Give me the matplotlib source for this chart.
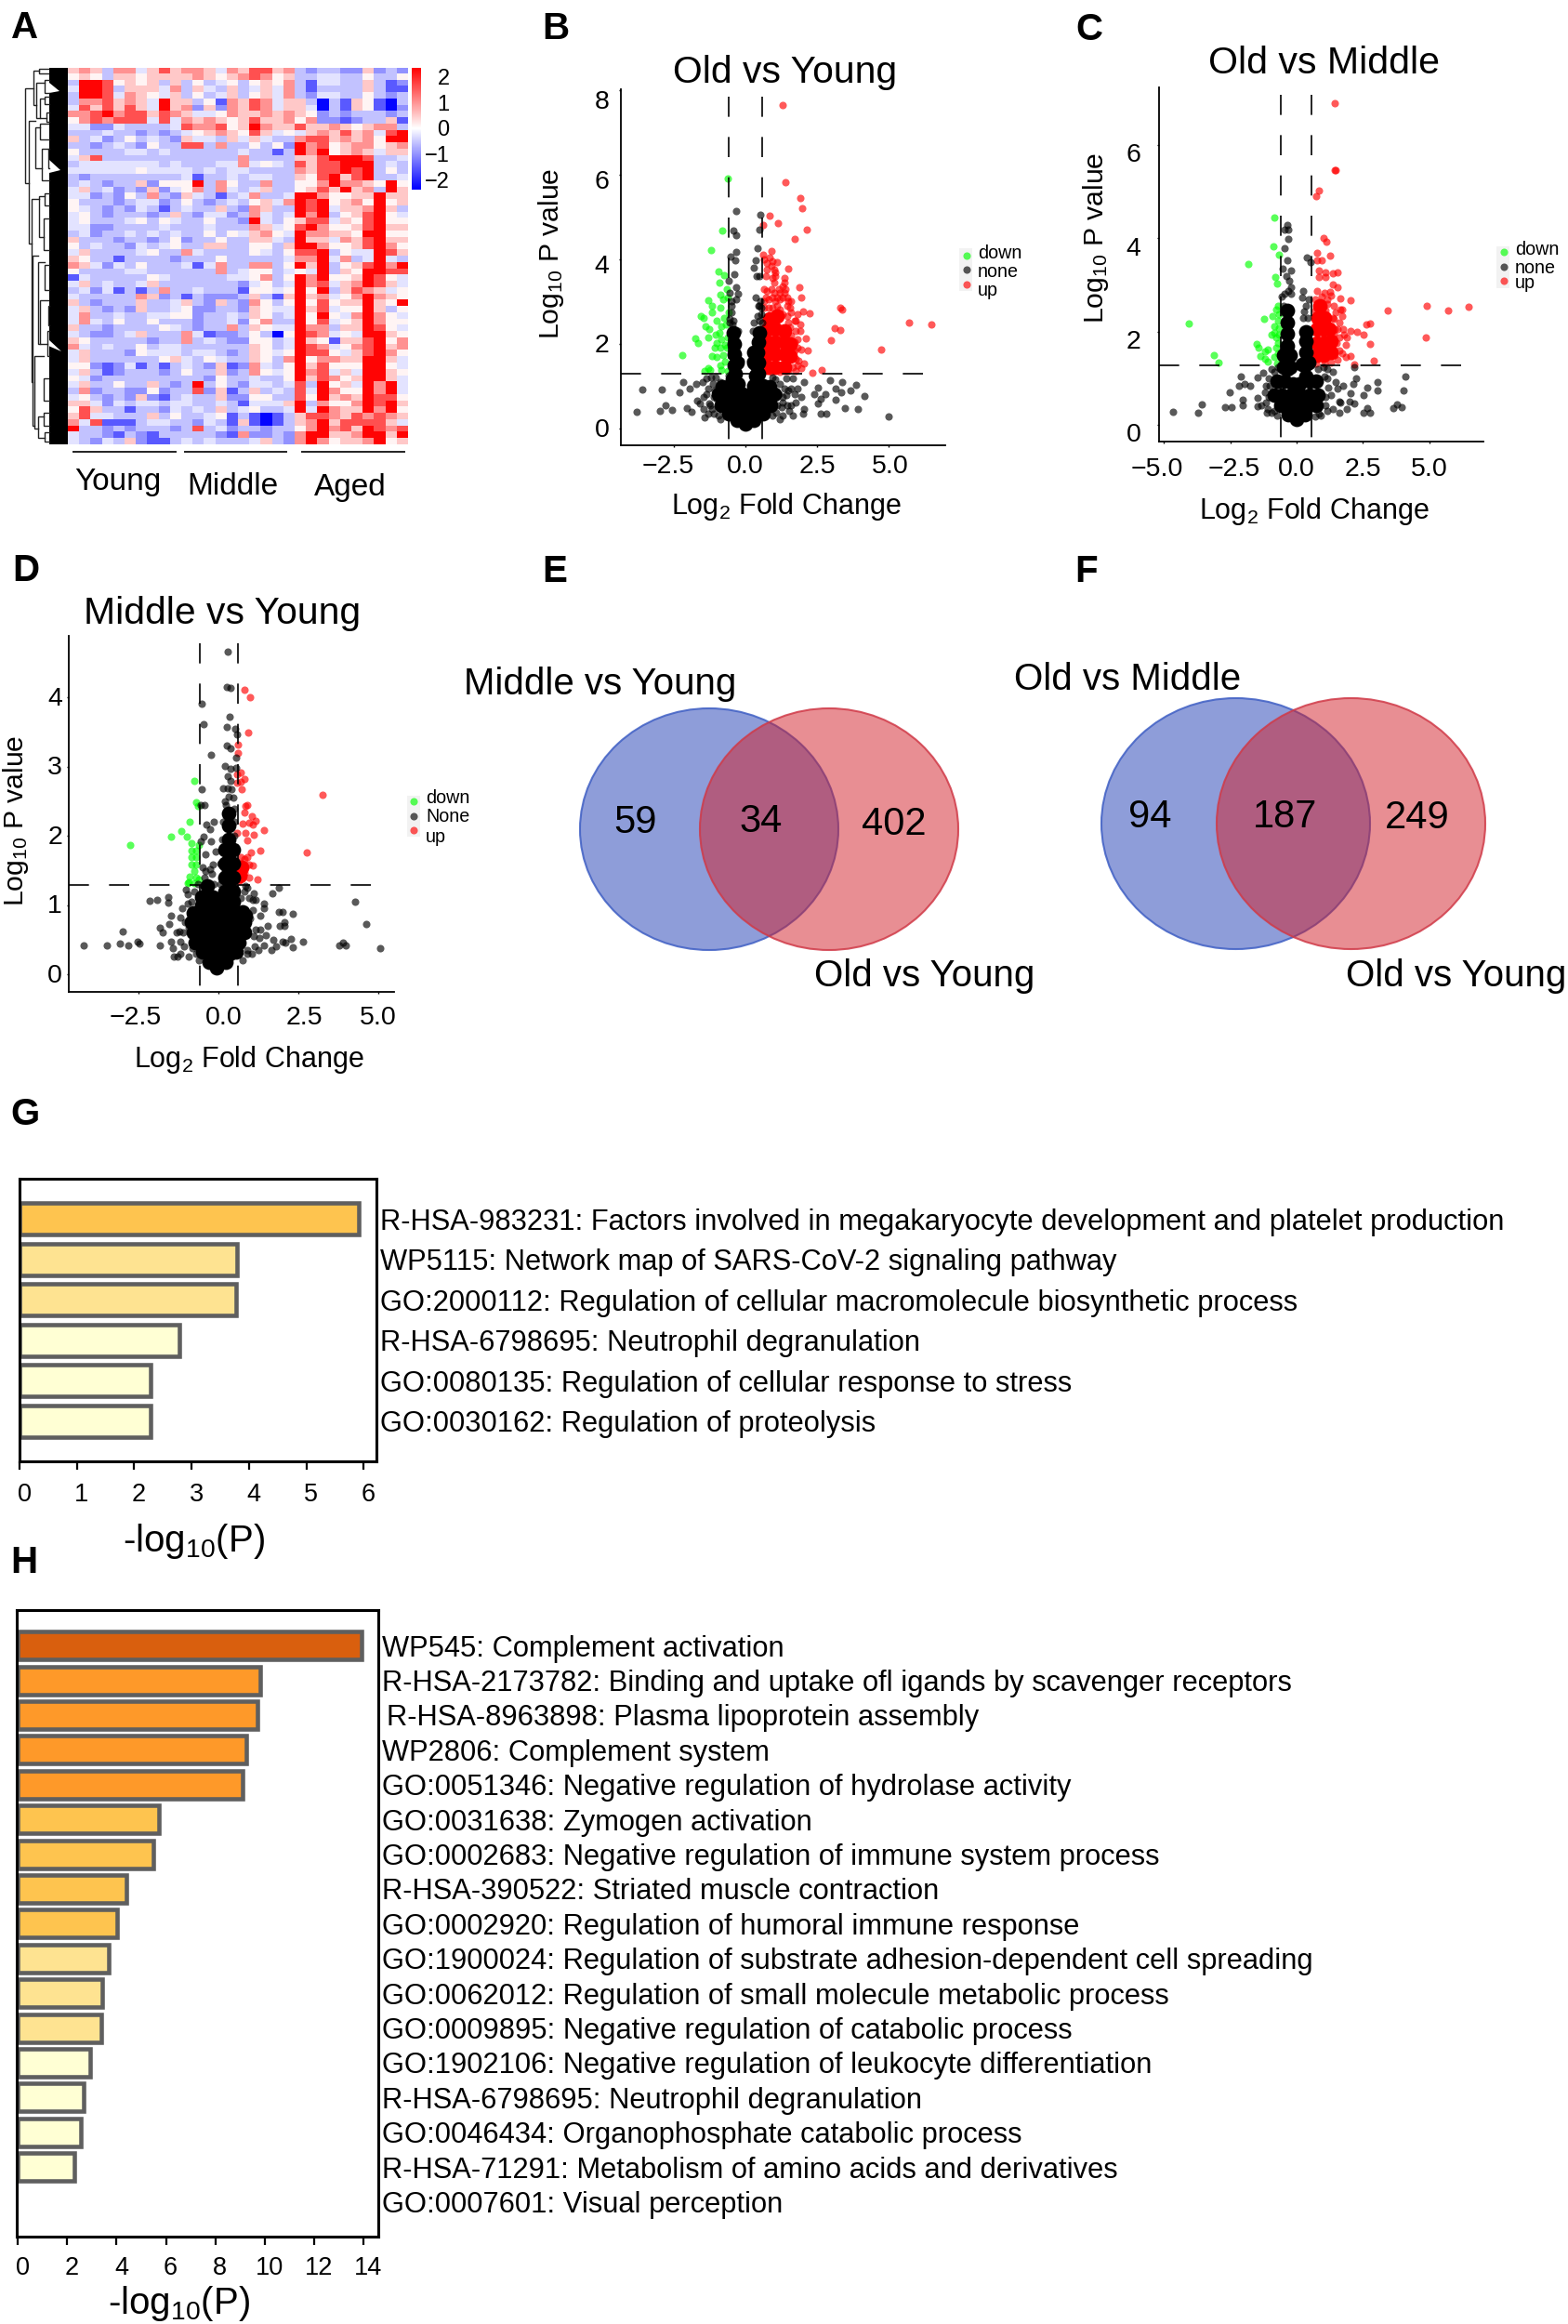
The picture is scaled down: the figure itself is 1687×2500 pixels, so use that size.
#!/usr/bin/env python3
"""Multi-panel figure: heatmap, volcano plots, Venn diagrams, enrichment bars."""

import numpy as np
import matplotlib
matplotlib.use("Agg")
import matplotlib.pyplot as plt
from matplotlib.colors import LinearSegmentedColormap
from matplotlib.patches import Ellipse, Rectangle
from matplotlib.transforms import ScaledTranslation

plt.rcParams["font.family"] = ["Liberation Sans", "DejaVu Sans"]
plt.rcParams["mathtext.fontset"] = "custom"
plt.rcParams["mathtext.rm"] = "Liberation Sans"
plt.rcParams["mathtext.default"] = "regular"

W, H = 1687, 2500

# ---- panel A: one digit per cell, 0 = deep blue ... 9 = deep red
HEAT_LEVELS = [-2.3, -1.5, -1.0, -0.55, -0.25, 0.1, 0.5, 1.0, 1.6, 2.3]
HEAT_ROWS = [
    "6763774686 7764768867 3233226232",
    "5653665666 6765678756 3344335335",
    "3998565636 3534535657 3144336312",
    "4998366647 3643634647 3133336311",
    "3998476546 3534635647 3244335323",
    "3778676496 6351768746 6303165103",
    "4868686496 7262768746 6403165102",
    "7789788687 6445766767 6523233323",
    "5787888484 7676568667 5722123361",
    "4422433334 8778569766 8667656773",
    "3334332323 4567658645 4676867489",
    "6342353432 6443646433 7886767599",
    "3323432533 8837335352 9785677567",
    "5333344343 3333343313 9795676466",
    "4683333333 3333373333 6689998334",
    "3444444434 3334474543 8688999343",
    "4444445444 4343443333 7688989353",
    "3233333333 4133434433 6589689334",
    "3432336255 5937533733 5579776595",
    "4634232624 5737434633 5686967396",
    "4423253732 6431347334 9975566966",
    "5333234423 5323435647 9895675956",
    "5432324313 4336327633 9894667963",
    "4532333236 3244237434 9793568954",
    "4533345354 3353329435 6884658955",
    "4422333343 3343337645 8975568966",
    "3423343434 3353546754 9776659955",
    "6333233235 2335336643 9664768966",
    "5343324345 3366335536 9975568975",
    "4633334533 7433335435 8893544986",
    "6533133332 3335333334 7794734943",
    "7642435333 4147337735 9693568979",
    "5333344333 3337345534 5493659988",
    "1433333543 3333445735 9795569854",
    "4634334633 3333324534 9784679864",
    "3424131373 3433315545 9593687645",
    "4333337623 1322236316 9674579765",
    "6323336334 6326327535 9585669659",
    "4632326334 5223326544 9684559635",
    "4733433445 5233436534 9595479754",
    "4743533533 3233425733 9584569755",
    "6332333354 3233736544 9773669854",
    "4322346333 7412235305 9874549965",
    "6533333233 7343225534 9651668957",
    "7434335344 3333336534 9874578967",
    "4633325444 3443236545 9885468975",
    "4633333356 4354336537 9577669964",
    "5521241313 4326127435 9685559954",
    "4631233323 5336237545 9784649965",
    "5423333333 3325334335 9687569964",
    "4633533632 3935324434 8395649794",
    "3723322523 3826136343 8497559794",
    "4532326213 4336225533 8596769885",
    "6642434434 4334314446 9375579896",
    "5863313324 3436345334 9497669795",
    "6844333635 3345131013 6887687876",
    "7481113443 3243161013 6796888864",
    "9332323332 3834233233 5797869878",
    "4332132133 3332172232 7996679969",
    "4324362113 4343334632 7975667956",
]
COLORBAR_TICKS = [2, 1, 0, -1, -2]
GROUP_NAMES = ["Young", "Middle", "Aged"]

# dendrogram brackets: depth of the bar, its two rows, depth of the two children
DENDRO = [
    (20, 3.3, 18.4, 47, 33), (47, 0.5, 6.0, 65, 58), (65, 0.2, 1.0, 95, 95),
    (58, 2.5, 8.0, 85, 70), (85, 2.0, 4.0, 100, 100), (70, 5.0, 8.0, 85, 90),
    (85, 4.6, 5.8, 100, 100), (90, 7.2, 8.6, 100, 100), (33, 8.5, 28.0, 55, 42),
    (55, 9.5, 16.0, 70, 75), (70, 9.0, 11.5, 95, 100), (75, 13.0, 18.0, 95, 100),
    (95, 13.0, 16.0, 100, 100), (42, 21.0, 50.0, 65, 45), (65, 20.5, 27.0, 85, 80),
    (85, 20.0, 22.0, 100, 100), (80, 24.0, 29.0, 100, 100), (45, 30.0, 57.0, 62, 50),
    (62, 31.0, 44.0, 85, 70), (85, 31.5, 35.5, 100, 100), (70, 37.0, 44.0, 95, 92),
    (95, 38.0, 41.0, 100, 100), (92, 42.0, 46.0, 100, 100), (50, 46.0, 57.5, 80, 62),
    (80, 49.5, 53.0, 95, 100), (62, 55.5, 59.0, 80, 85), (80, 55.0, 57.0, 100, 100),
    (85, 58.0, 59.6, 100, 100),
]

# ---- panel B: Old vs Young
B_DOWN = [(-.61, 5.90), (-.81, 4.68), (-1.20, 4.21), (-.95, 3.72), (-.73, 3.62), (-.91, 3.44),
          (-.66, 3.30), (-.89, 3.16), (-1.29, 3.04), (-.77, 3.06), (-1.18, 2.90), (-.89, 2.86),
          (-.63, 3.10), (-1.18, 2.74), (-1.55, 2.65), (-1.46, 2.62), (-1.0, 2.54), (-.75, 2.62),
          (-1.40, 2.42), (-1.28, 2.34), (-.83, 2.42), (-.91, 2.26), (-1.03, 2.22), (-1.31, 2.16),
          (-1.75, 2.12), (-1.64, 2.02), (-.83, 2.1), (-1.0, 2.02), (-.89, 1.90), (-1.06, 1.90),
          (-.72, 1.98), (-2.21, 1.74), (-1.18, 1.72), (-1.0, 1.68), (-.77, 1.74), (-.72, 1.58),
          (-.89, 1.49), (-1.29, 1.42), (-1.23, 1.38), (-1.41, 1.36), (-.83, 1.38), (-.63, 1.36),
          (-.66, 1.90), (-.63, 2.14), (-.68, 2.46), (-.6, 2.74)]
B_UP = [(1.30, 7.64), (1.38, 5.83), (1.90, 5.45), (1.97, 5.21), (.84, 5.02), (.61, 4.82), (1.12, 4.85),
        (2.13, 4.70), (1.70, 4.49), (.90, 4.19), (.61, 4.10), (1.10, 3.94), (1.49, 3.77), (1.88, 3.33),
        (1.93, 3.10), (3.31, 2.85), (3.36, 2.81), (2.23, 2.72), (2.02, 2.77), (5.69, 2.50), (6.46, 2.46),
        (3.10, 2.37), (3.30, 2.32), (2.98, 2.09), (2.09, 2.12), (4.71, 1.87), (2.17, 1.85), (1.95, 1.86),
        (2.05, 1.54), (1.94, 1.42), (2.32, 1.31), (2.66, 1.38), (1.0, 3.2), (1.3, 3.1), (1.4, 3.3),
        (1.35, 3.45), (1.2, 3.2), (.9, 3.3), (.65, 3.3), (.7, 3.1), (1.05, 3.0), (1.45, 2.9), (1.6, 2.75),
        (1.8, 2.7), (1.75, 2.55), (1.9, 2.45), (1.9, 2.3), (1.7, 2.55), (1.55, 2.4), (1.8, 2.1), (1.7, 1.85),
        (1.85, 1.6), (1.65, 1.45), (1.75, 1.35), (1.5, 1.35), (1.2, 1.33), (.9, 1.33), (1.6, 2.2), (.75, 3.75),
        (.95, 3.95), (1.0, 3.75), (1.05, 3.6), (.95, 3.55), (.9, 3.85), (.85, 4.05), (.7, 3.6), (.75, 3.9),
        (1.0, 3.45), (1.05, 3.7), (1.35, 3.55), (.65, 4.0), (.65, 2.85), (.8, 2.85), (.95, 2.85), (1.1, 2.9), (1.2, 2.8),
        (1.3, 2.7), (1.45, 2.65), (1.5, 2.5), (1.75, 2.3), (1.7, 2.05), (1.55, 1.85), (1.8, 1.9), (1.75, 1.65), (1.8, 1.5),
        (.8, 3.05), (1.1, 3.1), (1.2, 3.05), (1.35, 3.2), (1.45, 3.1), (1.5, 3.0), (1.3, 3.35), (1.15, 3.3), (.75, 3.25),
        (.65, 3.0), (.95, 3.1), (1.6, 3.0), (1.55, 2.85)]
B_UP_DENSE = [(.78, 1.45), (1.05, 1.45), (1.35, 1.45), (.78, 1.75), (1.05, 1.75), (1.35, 1.75), (1.55, 1.7),
              (.78, 2.05), (1.05, 2.05), (1.35, 2.05), (1.55, 2.0), (.78, 2.35), (1.05, 2.35), (1.35, 2.3),
              (.85, 2.6), (1.1, 2.65)]
B_NONE = [(-.31, 5.14), (.52, 5.05), (-.43, 4.68), (.5, 4.69), (-.31, 4.56), (.43, 4.26), (-.33, 4.18),
          (-.52, 4.06), (.36, 3.98), (-.37, 3.98), (.29, 3.8), (-.4, 3.64), (.38, 3.6), (-.57, 3.5), (-.33, 3.33),
          (.36, 3.09), (-.25, 3.18), (-.31, 3.06), (.45, 2.9), (.55, 2.85), (.5, 3.6), (.52, 3.0), (-.55, 3.2),
          (-.5, 3.0), (-3.6, .92), (-3.79, .4), (-2.93, .92), (-2.99, .42), (-2.77, .54), (-2.56, .44), (-2.3, .86),
          (-2.16, 1.1), (-1.93, .94), (-1.73, 1.05), (-2.04, .49), (-1.87, .4), (-1.7, .66), (-1.46, .74),
          (-1.41, .26), (-1.23, .54), (-1.06, .9), (-1.35, 1.18), (-.89, 1.1), (-1.18, .46), (-1.0, .7), (-1.58, .58),
          (-.89, .22), (2.03, 1.09), (2.4, .82), (2.51, .96), (2.77, .82), (2.63, .7), (2.51, .58), (2.94, 1.13),
          (3.15, .94), (3.36, 1.1), (3.32, .86), (3.67, .89), (3.84, 1.02), (4.15, .77), (3.93, .45), (3.46, .48),
          (3.15, .68), (2.63, .34), (2.8, .35), (4.97, .28), (2.05, .45), (2.0, .34), (1.94, .74), (1.71, .82),
          (1.42, 1.18), (1.65, 1.18), (1.19, .22), (1.53, .42), (1.76, .62), (1.3, .62), (1.07, .38), (1.82, .94),
          (1.42, .78), (-1.5, 1.1), (-1.3, .95), (-1.15, 1.05), (-1.1, .75), (-1.35, .8), (-1.25, .6), (-1.45, .45), (-1.1, .35),
          (-.95, .3), (-1.3, .35), (-1.2, 1.2), (-1.05, 1.2), (1.05, 1.15), (1.2, 1.05), (1.35, .95), (1.15, .8), (1.3, .75),
          (1.5, .9), (1.25, .5), (1.45, .55), (1.1, .55), (.95, .3), (1.3, .3), (1.6, .95), (.95, 1.2), (1.6, .55), (1.65, .3),
          (-.6, 1.25), (-.55, 2.5), (-.5, 2.75), (-.55, 2.6), (-.42, 2.55), (-.48, 2.9), (-.45, 2.45), (.58, 2.5), (.55, 2.7),
          (.48, 2.9), (.5, 2.55), (.42, 2.65), (.3, 2.5), (.25, 2.3), (-.25, 2.3), (.15, 1.6), (-.15, 1.6)]
B_NONE_DENSE = [(-.42, 2.25), (-.4, 2.0), (-.38, 1.75), (-.38, 1.5), (-.36, 1.3), (-.28, 1.55), (-.45, 1.15),
                (-.25, 1.05), (.47, 2.25), (.45, 2.05), (.42, 1.8), (.38, 1.5), (.35, 1.25),
                (.3, 1.55), (.3, 1.8), (.45, 1.55), (.45, 1.3), (-.8, .98), (-.55, 1.0), (.3, 1.0), (.6, 1.0), (.85, .98),
                (-.95, .8), (-.7, .8), (-.4, .8), (-.1, .8), (.2, .8), (.5, .8), (.8, .8), (1.0, .8), (-.85, .55), (-.6, .55),
                (-.3, .55), (0, .55), (.3, .55), (.6, .55), (.88, .55), (-.6, .35), (-.35, .35), (0, .35), (.35, .35), (.62, .35),
                (-.28, .2), (0, .2), (.28, .2), (0, .1)]

# ---- panel C: Old vs Middle
C_DOWN = [(-.86, 4.45), (-.89, 3.83), (-.65, 3.65), (-1.84, 3.44), (-.81, 3.17), (-.75, 3.04), (-.69, 2.55),
          (-.77, 2.48), (-.9, 2.34), (-1.24, 2.28), (-.65, 2.37), (-.71, 2.23), (-.84, 2.12), (-.65, 2.08),
          (-4.08, 2.18), (-.96, 1.94), (-.84, 1.97), (-.65, 1.94), (-.77, 1.87), (-1.5, 1.74), (-1.44, 1.65),
          (-1.09, 1.61), (-1.21, 1.58), (-1.36, 1.48), (-.77, 1.65), (-1.09, 1.36), (-1.21, 1.43), (-.84, 1.47),
          (-.74, 1.32), (-3.11, 1.5), (-2.96, 1.34), (-.71, 1.54), (-.71, 1.76)]
C_UP = [(1.45, 6.89), (1.44, 5.46), (1.47, 5.46), (.84, 5.03), (.74, 4.9), (1.01, 4.0), (1.11, 3.93), (.76, 3.69),
        (1.25, 3.62), (.76, 3.53), (.94, 3.53), (.85, 3.31), (1.1, 3.28), (1.35, 3.25), (1.54, 3.28), (.85, 3.18),
        (1.1, 3.18), (1.37, 3.01), (1.54, 2.95), (1.04, 2.84), (.76, 2.88), (1.29, 2.77), (1.66, 2.72), (2.05, 2.68),
        (1.16, 2.7), (3.45, 2.46), (4.91, 2.55), (5.73, 2.46), (6.49, 2.53), (1.66, 2.48), (1.72, 2.48), (1.47, 2.41),
        (1.72, 2.34), (1.41, 2.28), (2.78, 2.18), (2.63, 2.15), (2.03, 2.02), (2.28, 2.0), (2.51, 1.94), (1.54, 2.05),
        (1.78, 1.94), (4.87, 1.88), (1.6, 1.88), (2.78, 1.74), (1.85, 1.72), (1.72, 1.54), (2.03, 1.49), (1.85, 1.47),
        (2.91, 1.38), (2.18, 1.31), (.7, 2.7), (.7, 2.45), (.95, 2.55), (1.1, 2.45), (1.35, 2.3), (1.45, 2.05), (1.5, 1.75),
        (1.6, 1.6), (1.45, 1.5), (1.55, 1.4), (1.3, 1.35), (1.05, 1.32), (.75, 1.32), (1.9, 1.88), (1.25, 2.85), (.95, 2.75),
        (1.15, 2.6), (1.4, 2.55), (1.6, 2.2), (1.75, 2.05), (1.4, 1.95)]
C_UP_DENSE = [(.78, 1.5), (1.02, 1.5), (1.28, 1.55), (.78, 1.75), (1.02, 1.75), (1.28, 1.8), (.78, 2.05), (1.0, 2.05),
              (1.22, 2.05), (.82, 2.3), (1.05, 2.3), (.88, 2.55)]
C_NONE = [(-.34, 4.29), (-.44, 4.19), (-.31, 4.18), (-.31, 3.98), (-.46, 3.78), (-.34, 3.53), (.39, 3.59), (.51, 3.49),
          (-.52, 3.35), (-.21, 3.31), (-.4, 3.2), (-.27, 3.09), (-.31, 2.88), (.25, 2.88), (.22, 2.73), (-.44, 2.81),
          (-.21, 2.81), (.47, 2.7), (.35, 2.55), (.29, 2.44), (-4.68, .29), (-3.71, .27), (-3.57, .44), (-2.71, .38),
          (-2.46, .39), (-2.52, .71), (-2.05, .54), (-2.05, .43), (-2.18, .85), (-1.96, .89), (-1.76, .85), (-2.12, 1.05),
          (-1.46, 1.03), (-1.27, 1.12), (-1.46, .58), (-1.49, .4), (-1.11, .26), (-1.21, .71), (-1.15, .49), (-1.34, .42),
          (-.96, .27), (-1.02, .85), (-.84, 1.14), (-.96, .6), (2.16, 1.25), (2.25, 1.0), (2.13, .89), (1.75, .85),
          (2.66, .8), (2.51, .64), (3.06, .93), (3.06, .74), (4.12, 1.05), (4.03, .74), (3.66, .37), (3.78, .44),
          (3.97, .38), (2.51, .27), (2.66, .36), (2.76, .27), (2.03, .69), (2.01, .51), (2.16, .46), (1.89, .35), (1.6, .51),
          (1.66, .49), (1.6, .26), (1.35, .35), (1.35, 1.14), (1.47, .93), (.91, .2), (1.29, .64), (1.54, .78), (1.1, .42),
          (-1.05, 1.0), (-.95, 1.2), (-1.15, .85), (-1.05, .6), (-1.1, .35), (-.85, .3), (-.75, .2), (-.7, 1.25), (1.15, 1.2),
          (1.0, 1.25), (1.15, 1.0), (1.2, .8), (1.1, .6), (1.15, .3), (.85, .25), (.7, .18), (1.05, 1.05), (.8, 1.2), (-.55, 2.75),
          (-.2, 2.95), (.42, 2.3), (.25, 2.3), (-.5, 2.55)]
C_NONE_DENSE = [(-.36, 2.45), (-.36, 2.2), (-.36, 1.95), (-.36, 1.7), (-.36, 1.45), (-.36, 1.2), (-.48, 1.5), (-.25, 1.5),
                (-.48, 1.25), (-.25, 1.25), (.35, 2.0), (.35, 1.8), (.35, 1.55), (.35, 1.3), (.35, 1.05), (.45, 1.35),
                (.22, 1.3), (-.72, .95), (-.45, .95), (-.15, .88), (.12, .88), (.48, .95), (.75, .95), (-.85, .65), (-.55, .65),
                (-.2, .65), (.15, .65), (.5, .65), (.82, .65), (-.58, .42), (-.25, .42), (.1, .42), (.45, .42), (.72, .42),
                (-.3, .22), (0, .22), (.3, .22), (0, .12)]

# ---- panel D: Middle vs Young
D_DOWN = [(-.76, 2.8), (-.71, 2.48), (-.64, 2.43), (-.9, 2.2), (-1.16, 2.07), (-1.0, 1.99), (-1.49, 1.99), (-2.76, 1.87),
          (-.83, 1.89), (-.6, 1.87), (-.83, 1.79), (-.71, 1.79), (-.83, 1.69), (-.71, 1.69), (-.83, 1.59), (-.71, 1.59),
          (-.76, 1.49), (-.9, 1.41), (-.71, 1.4), (-.92, 1.33), (-.76, 1.32), (-.6, 1.37), (-.97, 1.32)]
D_UP = [(.8, 4.12), (.98, 4.01), (.94, 3.49), (.61, 3.32), (.61, 3.2), (.7, 2.91), (.59, 2.89), (.8, 2.82), (.7, 2.78),
        (.59, 2.77), (.72, 2.67), (3.25, 2.59), (.91, 2.44), (.85, 2.43), (.8, 2.34), (1.03, 2.28), (1.17, 2.22), (.75, 2.18),
        (.96, 2.19), (1.06, 2.17), (1.41, 2.08), (.59, 2.04), (.85, 2.04), (1.11, 2.01), (.91, 1.94), (1.32, 1.79), (1.01, 1.76),
        (2.76, 1.76), (.7, 1.69), (.91, 1.69), (.8, 1.67), (.96, 1.59), (1.08, 1.57), (.65, 1.59), (.75, 1.57), (.65, 1.49),
        (.8, 1.47), (.96, 1.4), (1.22, 1.37), (.7, 1.4), (.63, 1.34)]
D_UP_DENSE = [(.72, 1.55), (.68, 1.42)]
D_NONE = [(.28, 4.67), (.26, 4.16), (.39, 4.14), (-.52, 3.91), (-.47, 3.61), (.35, 3.72), (.25, 3.57), (.51, 3.55), (.57, 3.47),
          (.27, 3.31), (.38, 3.26), (-.22, 3.17), (.56, 3.13), (.2, 3.01), (.54, 2.99), (.39, 2.97), (.28, 2.86), (.39, 2.79),
          (.15, 2.69), (.28, 2.69), (.41, 2.67), (-.53, 2.67), (.33, 2.57), (-.55, 2.44), (-.45, 2.44), (.23, 2.44), (.49, 2.39),
          (-.14, 2.21), (-.38, 2.16), (-.27, 2.09), (-.48, 1.99), (-.24, 1.92), (-.1, 1.77), (-.4, 1.74), (-.55, 1.92), (-.19, 1.59),
          (-.4, 1.49), (-.27, 1.52), (-4.22, .41), (-3.49, .42), (-3.08, .44), (-2.83, .42), (-2.53, .47), (-2.46, .44), (-3.0, .62),
          (-2.15, 1.06), (-1.92, 1.07), (-1.56, 1.11), (-1.56, 1.03), (-1.82, .42), (-1.82, .67), (-1.75, .6), (-1.54, .72),
          (-1.49, .85), (-1.39, .25), (-1.28, .25), (-1.49, .47), (-1.44, .37), (-1.18, .47), (-1.23, .62), (-1.13, .95), (-1.02, 1.22),
          (-1.18, .82), (-.97, 1.02), (-.92, .67), (-.92, .25), (-.81, .37), (-1.07, .4), (1.88, 1.25), (1.69, 1.17), (1.11, 1.17),
          (.85, 1.27), (1.06, 1.07), (1.17, 1.07), (1.41, 1.02), (1.43, .96), (1.06, .92), (1.32, .85), (1.9, .9), (2.0, .9), (2.31, .87),
          (2.07, .75), (1.92, .7), (2.05, .7), (1.53, .7), (1.32, .65), (1.17, .65), (1.48, .57), (1.27, .52), (1.71, .5), (2.26, .51),
          (2.0, .47), (2.1, .45), (2.65, .47), (2.31, .39), (1.79, .4), (1.64, .35), (1.43, .42), (1.14, .4), (.91, .3), (4.26, 1.05),
          (4.63, .72), (3.77, .42), (3.88, .46), (3.98, .42), (5.04, .37), (-1.05, .75), (-1.1, .6), (-.95, 1.15), (-.85, 1.05), (-.75, 1.2),
          (-.65, 1.3), (-.7, .3), (-.6, .2), (-1.3, .6), (-1.2, .3), (.95, 1.1), (.9, 1.25), (.8, 1.2), (1.0, .8), (1.1, .55), (.9, .35),
          (.75, .2), (1.25, .35), (1.05, .3), (.7, 1.1), (-.5, 1.55), (-.45, 1.4), (-.2, 1.45), (-.15, 1.3), (.05, 1.3), (.05, 1.6),
          (.1, 1.95), (.15, 2.2), (.5, 2.2), (.5, 2.0), (.2, 2.5), (.45, 2.55)]
D_NONE_DENSE = [(.33, 2.32), (.33, 2.15), (.33, 1.95), (.33, 1.8), (.33, 1.65), (.33, 1.5), (.33, 1.35), (.33, 1.2), (.33, 1.05),
                (.2, 1.8), (.45, 1.8), (.2, 1.6), (.45, 1.6), (.2, 1.4), (.45, 1.4), (.2, 1.2), (.47, 1.2), (.2, 1.05), (.47, 1.05),
                (-.35, 1.28), (-.35, 1.15), (-.35, 1.0), (-.35, .9), (-.52, 1.12), (-.18, 1.12), (-.52, 1.0), (-.18, 1.0),
                (-.8, .88), (-.6, .9), (-.3, .9), (0, .85), (.15, .9), (.45, .9), (.75, .9), (.85, .85), (-.85, .75), (-.65, .75), (-.35, .75), (-.05, .75), (.25, .75),
                (.55, .75), (.8, .75), (-.8, .6), (-.55, .6), (-.25, .6), (.05, .6), (.35, .6), (.65, .6), (.8, .6), (-.72, .45), (-.5, .45),
                (-.2, .45), (.1, .45), (.4, .45), (.65, .45), (-.5, .32), (-.25, .3), (.05, .3), (.35, .3), (.55, .32), (-.3, .18), (-.05, .15),
                (.22, .18), (-.05, .09)]

# ---- panels E and F
VENN_E_COUNTS = ["59", "34", "402"]
VENN_F_COUNTS = ["94", "187", "249"]

# ---- panel G
G_VALUES = [5.92, 3.79, 3.77, 2.79, 2.29, 2.29]
G_COLORS = ["#FEC44F", "#FEE391", "#FEE391", "#FFFFD4", "#FFFFD4", "#FFFFD4"]
G_TERMS = [
    "R-HSA-983231: Factors involved in megakaryocyte development and platelet production",
    "WP5115: Network map of SARS-CoV-2 signaling pathway",
    "GO:2000112: Regulation of cellular macromolecule biosynthetic process",
    "R-HSA-6798695: Neutrophil degranulation",
    "GO:0080135: Regulation of cellular response to stress",
    "GO:0030162: Regulation of proteolysis",
]

# ---- panel H
H_VALUES = [13.92, 9.81, 9.70, 9.24, 9.11, 5.71, 5.48, 4.38, 4.03, 3.69, 3.41, 3.39, 2.94, 2.68, 2.54, 2.28]
H_COLORS = ["#D95F0E"] + ["#FE9929"] * 4 + ["#FEC44F"] * 4 + ["#FEE391"] * 3 + ["#FFFFD4"] * 4
H_TERMS = [
    "WP545: Complement activation",
    "R-HSA-2173782: Binding and uptake ofl igands by scavenger receptors",
    "R-HSA-8963898: Plasma lipoprotein assembly",
    "WP2806: Complement system",
    "GO:0051346: Negative regulation of hydrolase activity",
    "GO:0031638: Zymogen activation",
    "GO:0002683: Negative regulation of immune system process",
    "R-HSA-390522: Striated muscle contraction",
    "GO:0002920: Regulation of humoral immune response",
    "GO:1900024: Regulation of substrate adhesion-dependent cell spreading",
    "GO:0062012: Regulation of small molecule metabolic process",
    "GO:0009895: Negative regulation of catabolic process",
    "GO:1902106: Negative regulation of leukocyte differentiation",
    "R-HSA-6798695: Neutrophil degranulation",
    "GO:0046434: Organophosphate catabolic process",
    "R-HSA-71291: Metabolism of amino acids and derivatives",
    "GO:0007601: Visual perception",
]

GREEN, RED = "#00FF00", "#FF0000"

fig = plt.figure(figsize=(W / 100, H / 100), dpi=100, facecolor="white")


def axes_px(left, top, right, bottom):
    """Axes from pixel edges of the final picture."""
    return fig.add_axes([left / W, 1 - bottom / H, (right - left) / W, (bottom - top) / H])


def shift_px(dx, dy):
    return ScaledTranslation(dx / 100, -dy / 100, fig.dpi_scale_trans)


# overlay in picture pixels for letters, titles, legends and the Venn shapes
page = fig.add_axes([0, 0, 1, 1], zorder=5)
page.set_xlim(0, W)
page.set_ylim(H, 0)
page.axis("off")


def put(x, y, s, size, **kw):
    # va=center counts the descender, so the letters sit a little high
    kw.setdefault("ha", "center")
    kw.setdefault("va", "center")
    if kw.get("rotation"):
        x += 3
    else:
        y += 3
    page.text(x, y, s, fontsize=size, **kw)


for letter, lx, ly in [("A", 12, 27), ("B", 583, 28), ("C", 1157, 29), ("D", 13, 611), ("E", 583, 612),
                       ("F", 1156, 612), ("G", 11, 1196), ("H", 11, 1678)]:
    put(lx, ly, letter, 29, ha="left", fontweight="bold")


def draw_heatmap():
    grid = np.array([[HEAT_LEVELS[int(c)] for c in row.replace(" ", "")] for row in HEAT_ROWS])
    cmap = LinearSegmentedColormap.from_list("bwr2", ["#0000FF", "#FFFFFF", "#FF0000"])
    ax = axes_px(73, 72.5, 439, 478)
    im = ax.imshow(grid, cmap=cmap, vmin=-2.34, vmax=2.34, aspect="auto", interpolation="nearest")
    ax.axis("off")

    cax = axes_px(443, 72.5, 452.5, 203.5)
    cb = fig.colorbar(im, cax=cax, ticks=COLORBAR_TICKS)
    cb.outline.set_visible(False)
    cax.tick_params(length=0, pad=0, labelsize=17)
    for lab in cax.get_yticklabels():
        lab.set_ha("right")
        lab.set_transform(lab.get_transform() + shift_px(31, 0))

    # dendrogram, solid towards the leaves
    page.add_patch(Rectangle((53, 72.5), 20, 405.5, color="black", lw=0))
    to_x = lambda d: d / 3 + 20
    to_y = lambda r: 72.5 + 6.76 * r
    for d, r0, r1, d0, d1 in DENDRO:
        page.plot([to_x(d0), to_x(d), to_x(d), to_x(d1)], [to_y(r0), to_y(r0), to_y(r1), to_y(r1)],
                  color="#222222", lw=1.0, solid_joinstyle="miter")
    for tri in [[(53, 89), (64, 98), (53, 100)], [(53, 172), (65, 183), (53, 186)], [(52, 365), (66, 378), (52, 372)]]:
        page.fill(*zip(*tri), color="white", lw=0)

    for (x0, x1), name, tx, ty in zip([(79, 189), (199, 308), (325, 435)], GROUP_NAMES, [127, 250, 377], [515, 520, 521]):
        page.plot([x0, x1], [486, 486], color="#222222", lw=1.4)
        put(tx, ty, name, 24)


def draw_volcano(rect, xlim, ylim, xticks, yticks, series, vlines, vtop, hline, hend, pads, xlab_shift, ylab_shift):
    ax = axes_px(*rect)
    down, up, up_dense, none, none_dense = [np.array(s).T for s in series]
    base = dict(linewidths=0, clip_on=False)
    ax.scatter(down[0], down[1], s=34, color=GREEN, alpha=0.65, **base)
    ax.scatter(up[0], up[1], s=34, color=RED, alpha=0.65, **base)
    ax.scatter(up_dense[0], up_dense[1], s=130, color=RED, **base)
    ax.scatter(none[0], none[1], s=34, color="black", alpha=0.65, **base)
    ax.scatter(none_dense[0], none_dense[1], s=130, color="black", **base)

    dash = (0, (13, 13))
    for vx in vlines:
        ax.plot([vx, vx], [vtop, ylim[0]], color="black", lw=1.2, linestyle=dash, zorder=4)
    ax.plot([xlim[0], hend], [hline, hline], color="black", lw=1.2, linestyle=dash, zorder=4)

    ax.set_xlim(*xlim)
    ax.set_ylim(*ylim)
    ax.set_xticks(xticks)
    ax.set_xticklabels([f"{t:.1f}".replace("-", "\u2212") for t in xticks])
    ax.set_yticks(yticks)
    ax.set_yticklabels([str(t) for t in yticks])
    ax.tick_params(axis="x", length=1.5, width=1, labelsize=20.5, pad=pads[0])
    ax.tick_params(axis="y", length=1.5, width=1, labelsize=20.5, pad=pads[1])
    # the pasted labels do not sit exactly on their ticks
    for lab, dx in zip(ax.get_xticklabels(), xlab_shift):
        lab.set_transform(lab.get_transform() + shift_px(dx, 0))
    for lab, dy in zip(ax.get_yticklabels(), ylab_shift):
        lab.set_transform(lab.get_transform() + shift_px(0, dy))
    for side in ("top", "right"):
        ax.spines[side].set_visible(False)
    for side in ("left", "bottom"):
        ax.spines[side].set_linewidth(1.3)
    return ax


def draw_legend(box, key_x, key_ys, text_x, text_ys, names):
    page.add_patch(Rectangle((box[0], box[1]), box[2] - box[0], box[3] - box[1], color="#F2F2F2", lw=0))
    for ky, tone in zip(key_ys, [GREEN, "black", RED]):
        page.scatter([key_x], [ky], s=34, color=tone, alpha=0.65, linewidths=0)
    for ty, name in zip(text_ys, names):
        put(text_x, ty - 3, name, 14.2, ha="left")


def draw_venn(left, right, top, bottom, counts, count_xy):
    w = right[1] - right[0]
    h = bottom - top
    cy = (top + bottom) / 2
    for (x0, x1), face, edge in [(left, "#1E3CB4", "#3F5FC4"), (right, "#D21E28", "#D03A48")]:
        cx = (x0 + x1) / 2
        page.add_patch(Ellipse((cx, cy), w, h, facecolor=face, alpha=0.5, lw=0))
        page.add_patch(Ellipse((cx, cy), w, h, facecolor="none", edgecolor=edge, lw=1.5, alpha=0.85))
    for s, (x, y) in zip(counts, count_xy):
        put(x, y - 1, s, 30)


def draw_bars(rect, xlim, ylim, xticks, values, colors, terms, height, pad):
    ax = axes_px(*rect)
    ax.barh(range(len(values)), values, height=height, color=colors, edgecolor="#5F5F5F", linewidth=3.3)
    ax.set_xlim(*xlim)
    ax.set_ylim(*ylim)
    ax.set_xticks(xticks)
    ax.tick_params(axis="x", length=6.5, width=1.6, labelsize=19.5, pad=pad)
    for lab in ax.get_xticklabels():
        lab.set_transform(lab.get_transform() + shift_px(5, 0))
    ax.yaxis.tick_right()
    ax.set_yticks(range(len(terms)))
    ax.set_yticklabels(terms)
    ax.tick_params(axis="y", length=0, labelsize=22.2, pad=3)
    for spine in ax.spines.values():
        spine.set_linewidth(2.2)
    return ax


draw_heatmap()

# B
draw_volcano((668, 96, 1017, 479), (-4.34, 6.96), (-0.40, 8.02), [-2.5, 0.0, 2.5, 5.0], [0, 2, 4, 6, 8],
             (B_DOWN, B_UP, B_UP_DENSE, B_NONE, B_NONE_DENSE), (-0.60, 0.58), 7.84, 1.29, 6.35, (6, 7.5),
             [-6, 0, 0, 1], [-1, -1, 5, 5, 10])
put(845, 75, "Old vs Young", 29.4)
put(846, 542, "Log$_{2}$ Fold Change", 22)
put(590, 273, "Log$_{10}$ P value", 21.7, rotation=90)
draw_legend((1032, 267, 1046, 313), 1040, [274.5, 290, 305.5], 1052, [272, 292, 313], ["down", "none", "up"])

# C
draw_volcano((1246.5, 94, 1596, 475), (-5.21, 7.05), (-0.35, 7.23), [-5.0, -2.5, 0.0, 2.5, 5.0], [0, 2, 4, 6],
             (C_DOWN, C_UP, C_UP_DENSE, C_NONE, C_NONE_DENSE), (-0.61, 0.57), 7.07, 1.29, 6.37, (10.5, 12),
             [-8, 4, 0, 0, 0], [8, 8, 9, 8])
put(1425, 65, "Old vs Middle", 29.6)
put(1414, 547, "Log$_{2}$ Fold Change", 22)
put(1176, 256, "Log$_{10}$ P value", 21.7, rotation=90)
draw_legend((1610, 265, 1624.5, 310), 1618, [271, 287, 302], 1630, [268, 289, 305], ["down", "none", "up"])

# D
draw_volcano((74, 683.5, 424, 1066.5), (-4.68, 5.49), (-0.25, 4.90), [-2.5, 0.0, 2.5, 5.0], [0, 1, 2, 3, 4],
             (D_DOWN, D_UP, D_UP_DENSE, D_NONE, D_NONE_DENSE), (-0.57, 0.61), 4.78, 1.295, 4.95, (9.5, 3.5),
             [-3, 6, 6, 0], [-1, -2, -1, -2, -1])
put(239, 657, "Middle vs Young", 29.4)
put(268, 1137, "Log$_{2}$ Fold Change", 22)
put(14, 883, "Log$_{10}$ P value", 21.7, rotation=90)
draw_legend((438, 856, 452.5, 900), 445, [862, 878, 893], 458, [858.5, 879, 900], ["down", "None", "up"])

# E
draw_venn((624, 902), (753, 1031), 762, 1022, VENN_E_COUNTS, [(684, 883), (819, 882), (962, 885)])
put(646, 733, "Middle vs Young", 29)
put(995, 1047, "Old vs Young", 29)

# F
draw_venn((1185, 1474), (1309, 1598), 751, 1021, VENN_F_COUNTS, [(1237, 877), (1383, 877), (1525, 878)])
put(1213, 728, "Old vs Middle", 29)
put(1567, 1047, "Old vs Young", 29)

# G
ax_g = draw_bars((21, 1268, 405, 1572), (0, 6.22), (6, -1), range(7), G_VALUES, G_COLORS, G_TERMS, 0.78, 10)
put(208.5, 1655, "-log$_{10}$(P)", 29)

# H
ax_h = draw_bars((18, 1732, 407, 2406), (-0.04, 14.59), (17, -1.02), range(0, 15, 2), H_VALUES, H_COLORS, H_TERMS, 0.80, 8.6)
ax_h.get_yticklabels()[2].set_transform(ax_h.get_yticklabels()[2].get_transform() + shift_px(5, 0))
put(193, 2475, "-log$_{10}$(P)", 29)

fig.savefig("out.png", dpi=100)
